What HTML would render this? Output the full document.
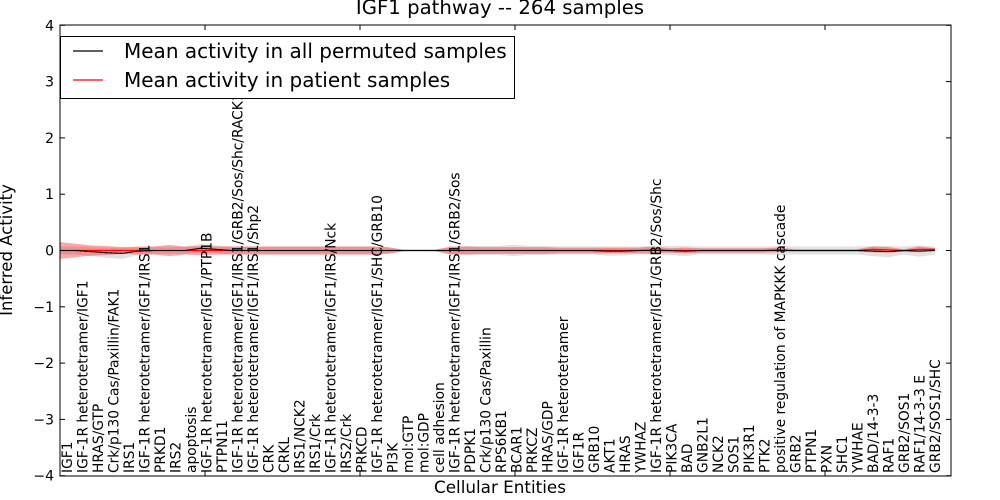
<!DOCTYPE html>
<html><head><meta charset="utf-8"><style>
body{margin:0;background:#fff;}
svg{display:block;font-family:"DejaVu Sans","Liberation Sans",sans-serif;}
</style></head><body>
<svg id="chart" width="1000" height="500" viewBox="0 0 1000 500">
<text x="500" y="14" text-anchor="middle" font-size="19.7">IGF1 pathway -- 264 samples</text>
<g id="plot"></g>
<text transform="translate(12,250) rotate(-90)" text-anchor="middle" font-size="16.5">Inferred Activity</text>
<text x="500" y="493" text-anchor="middle" font-size="16.8">Cellular Entities</text>
</svg>
<script>
const categories=["IGF1","IGF-1R heterotetramer/IGF1","HRAS/GTP","Crk/p130 Cas/Paxillin/FAK1","IRS1","IGF-1R heterotetramer/IGF1/IRS1","PRKD1","IRS2","apoptosis","IGF-1R heterotetramer/IGF1/PTP1B","PTPN11","IGF-1R heterotetramer/IGF1/IRS1/GRB2/Sos/Shc/RACK1","IGF-1R heterotetramer/IGF1/IRS1/Shp2","CRK","CRKL","IRS1/NCK2","IRS1/Crk","IGF-1R heterotetramer/IGF1/IRS/Nck","IRS2/Crk","PRKCD","IGF-1R heterotetramer/IGF1/SHC/GRB10","PI3K","mol:GTP","mol:GDP","cell adhesion","IGF-1R heterotetramer/IGF1/IRS1/GRB2/Sos","PDPK1","Crk/p130 Cas/Paxillin","RPS6KB1","BCAR1","PRKCZ","HRAS/GDP","IGF-1R heterotetramer","IGF1R","GRB10","AKT1","HRAS","YWHAZ","IGF-1R heterotetramer/IGF1/GRB2/Sos/Shc","PIK3CA","BAD","GNB2L1","NCK2","SOS1","PIK3R1","PTK2","positive regulation of MAPKKK cascade","GRB2","PTPN1","PXN","SHC1","YWHAE","BAD/14-3-3","RAF1","GRB2/SOS1","RAF1/14-3-3 E","GRB2/SOS1/SHC"];
const permMean=[0,0,-0.02,-0.04,-0.05,-0.01,0,0,0,0.04,0.02,0,0,0,0,0,0,0,0,0,0,0,0,0,0,0,0,0,0,0,0,0,0,0,0,-0.01,-0.01,0,0,0,-0.01,0,0,0,0,0,0,0,0,0,0,0,-0.01,-0.02,0,-0.01,0];
const permSpread=[0.07,0.07,0.08,0.09,0.1,0.07,0.06,0.06,0.06,0.08,0.07,0.07,0.07,0.07,0.07,0.07,0.07,0.07,0.07,0.07,0.07,0.05,0.02,0.02,0.02,0.06,0.08,0.08,0.08,0.1,0.08,0.08,0.07,0.07,0.07,0.08,0.08,0.07,0.08,0.08,0.09,0.07,0.07,0.07,0.07,0.07,0.08,0.07,0.07,0.07,0.07,0.07,0.09,0.1,0.07,0.1,0.07];
const patMean=[0,0,0,0,0,0,0,0,0,0,0,0,0,0,0,0,0,0,0,0,0,0,0,0,0,0,0,0,0,0,0,0,0,0,0,0,0,0,0.01,0,0,0,0,0,0,0,0.01,0,0,0,0,0,0.02,0.01,0,0.02,0.02];
const patSpread=[0.15,0.12,0.09,0.08,0.06,0.07,0.07,0.1,0.07,0.08,0.07,0.07,0.07,0.07,0.07,0.07,0.07,0.07,0.07,0.07,0.07,0.06,0.01,0.01,0.01,0.07,0.07,0.06,0.06,0.06,0.06,0.06,0.05,0.05,0.05,0.05,0.05,0.05,0.06,0.04,0.05,0.04,0.04,0.04,0.04,0.04,0.04,0.02,0.02,0.02,0.02,0.02,0.05,0.05,0.02,0.05,0.02];
const yTicks=[-4,-3,-2,-1,0,1,2,3,4];
const X0=60,X1=951,Y0=25,Y1=476;
function xs(i){return 60+i*(875/56);}
function ys(v){return 250.5-v*56.3;}
const NS="http://www.w3.org/2000/svg";
const g=document.getElementById('plot');
function mk(t,a){const e=document.createElementNS(NS,t);for(const k in a)e.setAttribute(k,a[k]);g.appendChild(e);return e;}
function band(m,s){let up=m.map((v,i)=>xs(i)+','+ys(v+s[i]));let dn=m.map((v,i)=>xs(i)+','+ys(v-s[i])).reverse();return up.concat(dn).join(' ');}
function line(m){return m.map((v,i)=>xs(i)+','+ys(v)).join(' ');}
let e;
e=mk('polygon',{points:band(permMean,permSpread),fill:'#d9d9d9','fill-opacity':'0.8'});


e=mk('polygon',{points:band(patMean,patSpread),fill:'#ff0000','fill-opacity':'0.35'});


e=mk('polyline',{points:line(patMean),fill:'none',stroke:'#ff0000','stroke-width':1.3});


e=mk('polyline',{points:line(permMean),fill:'none',stroke:'#000','stroke-width':1});


e=mk('polyline',{points:line(permMean),fill:'none',stroke:'#000','stroke-width':1,'stroke-dasharray':'2,3'});


e=mk('rect',{x:X0,y:Y0,width:X1-X0,height:Y1-Y0,fill:'none',stroke:'#000','stroke-width':1});


yTicks.forEach(t=>{
  const y=ys(t);
  let a=mk('line',{x1:X0,x2:X0+5,y1:y,y2:y,stroke:'#000'});
  
  
  a=mk('line',{x1:X1-5,x2:X1,y1:y,y2:y,stroke:'#000'});
  
  
  const tx=mk('text',{x:X0-6,y:y+5,'text-anchor':'end','font-size':14});
  tx.textContent=(t<0?'\u2212'+(-t):String(t));
  
  
});
[205,360,515,670,825].forEach(x=>{
  let a=mk('line',{x1:x,x2:x,y1:Y0,y2:Y0+5,stroke:'#000'});
  
  
  a=mk('line',{x1:x,x2:x,y1:Y1-5,y2:Y1,stroke:'#000'});
  
  
});
categories.forEach((c,i)=>{
  const x=72+i*15.5;
  const t=mk('text',{transform:`translate(${x},473) rotate(-90)`,'font-size':13.8});
  t.textContent=c;
  
  
});
e=mk('rect',{x:60.5,y:36.5,width:454,height:62,fill:'#fff',stroke:'#000','stroke-width':1});


e=mk('line',{x1:73,x2:103,y1:51,y2:51,stroke:'#000','stroke-width':1.3});


e=mk('line',{x1:73,x2:103,y1:80,y2:80,stroke:'#ff0000','stroke-width':1.3});


e=mk('text',{x:124,y:58,'font-size':20});
e.textContent='Mean activity in all permuted samples';


e=mk('text',{x:124,y:87,'font-size':20});
e.textContent='Mean activity in patient samples';


</script>
</body></html>
